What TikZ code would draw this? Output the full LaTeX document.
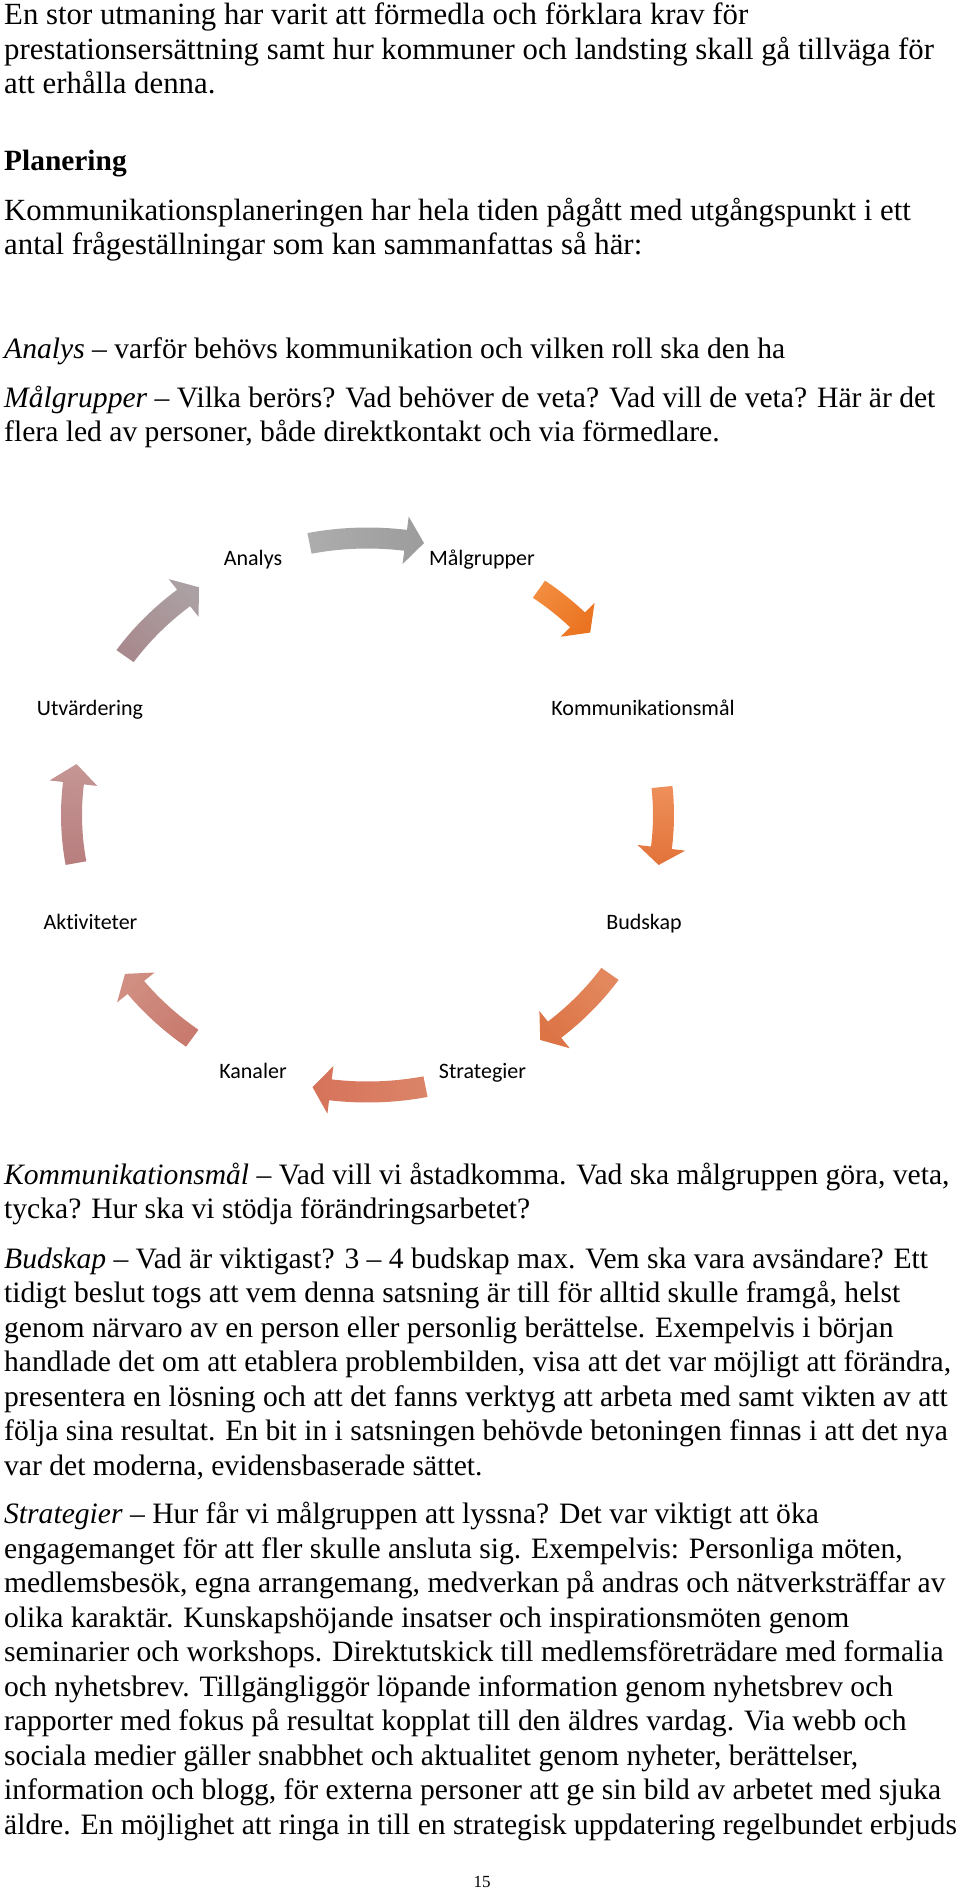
\documentclass[tikz,border=0pt]{standalone}
\usepackage{fontspec}
\setmainfont{Liberation Serif}
\newfontfamily\smartfont{Carlito}[Ligatures=NoCommon]
\definecolor{cyc1a}{HTML}{ADADAD}\definecolor{cyc1b}{HTML}{9C9C9C}
\definecolor{cyc2a}{HTML}{F28C3E}\definecolor{cyc2b}{HTML}{EA7320}
\definecolor{cyc3a}{HTML}{EE8F5A}\definecolor{cyc3b}{HTML}{E2733A}
\definecolor{cyc4a}{HTML}{E3885E}\definecolor{cyc4b}{HTML}{DC7446}
\definecolor{cyc5a}{HTML}{DB8468}\definecolor{cyc5b}{HTML}{D6735A}
\definecolor{cyc6a}{HTML}{C97A6E}\definecolor{cyc6b}{HTML}{D08F82}
\definecolor{cyc7a}{HTML}{B87E7E}\definecolor{cyc7b}{HTML}{C49694}
\definecolor{cyc8a}{HTML}{A88A8E}\definecolor{cyc8b}{HTML}{ABA0A3}
\begin{document}
\begin{tikzpicture}[x=1pt,y=-1pt,
    txt/.style={anchor=base west,inner sep=0pt,font=\fontsize{#1}{35}\selectfont},
    txt/.default=29.6,
    lbl/.style={anchor=base,inner sep=0pt,font=\smartfont\fontsize{22}{26}\selectfont}]
\useasboundingbox (0,0) rectangle (960,1889);

% text above the cycle
\foreach \y/\fsz/\linetext [count=\i] in {
    25/30.8/{En stor utmaning har varit att förmedla och förklara krav för},
    59.5/30.8/{prestationsersättning samt hur kommuner och landsting skall gå tillväga för},
    94/30.8/{att erhålla denna.},
    170.5/29.4/{\bfseries Planering},
    220/30.8/{Kommunikationsplaneringen har hela tiden pågått med utgångspunkt i ett},
    254.5/30.8/{antal frågeställningar som kan sammanfattas så här:},
    358/29.6/{\textit{Analys} – varför behövs kommunikation och vilken roll ska den ha},
    407/29.6/{\textit{Målgrupper} – Vilka berörs? Vad behöver de veta? Vad vill de veta? Här är det},
    441.5/29.6/{flera led av personer, både direktkontakt och via förmedlare.}}
  \node[txt=\fsz] (top\i) at (4,\y) {\linetext};

% the cycle
\coordinate (cyc) at (367.5,815);
\begin{scope}[shift={(cyc)}]
  \foreach \ta/\tb/\tc [count=\i] in {258.7/277.4/281, 305.4/315.2/318.8,
      354.2/366.8/370.4, 35/50.8/54.3, 78.7/97.2/100.7, 126.3/141.5/145,
      170/186.6/190.6, 215/231.6/235.3}{
    \pgfmathsetmacro\tm{(\ta+\tc)/2}
    \shade[top color=cyc\i a, bottom color=cyc\i b, shading angle=-\tm]
      (\ta:306.5 and 287.5) arc[start angle=\ta, end angle=\tb, x radius=306.5, y radius=287.5]
      -- (\tb:320 and 301) -- (\tc:296 and 277) -- (\tb:272 and 253)
      -- (\tb:285.5 and 266.5) arc[start angle=\tb, end angle=\ta, x radius=285.5, y radius=266.5]
      -- cycle;
  }
\end{scope}

\node[lbl] (analys) at (253,565) {Analys};
\node[lbl] (malgrupper) at (482,565) {Målgrupper};
\node[lbl] (kommal) at (643,715) {Kommunikationsmål};
\node[lbl] (budskap) at (644,929) {Budskap};
\node[lbl] (strategier) at (482.5,1078) {Strategier};
\node[lbl] (kanaler) at (253,1078) {Kanaler};
\node[lbl] (aktiviteter) at (90.5,929) {Aktiviteter};
\node[lbl] (utvardering) at (90,715) {Utvärdering};

% text below the cycle
\foreach \y/\linetext [count=\i] in {
    1184/{\textit{Kommunikationsmål} – Vad vill vi åstadkomma. Vad ska målgruppen göra, veta,},
    1218.5/{tycka? Hur ska vi stödja förändringsarbetet?},
    1268/{\textit{Budskap} – Vad är viktigast? 3 – 4 budskap max. Vem ska vara avsändare? Ett},
    1302.5/{tidigt beslut togs att vem denna satsning är till för alltid skulle framgå, helst},
    1337/{genom närvaro av en person eller personlig berättelse. Exempelvis i början},
    1371.5/{handlade det om att etablera problembilden, visa att det var möjligt att förändra,},
    1406/{presentera en lösning och att det fanns verktyg att arbeta med samt vikten av att},
    1440.5/{följa sina resultat. En bit in i satsningen behövde betoningen finnas i att det nya},
    1475/{var det moderna, evidensbaserade sättet.},
    1523.5/{\textit{Strategier} – Hur får vi målgruppen att lyssna? Det var viktigt att öka},
    1558/{engagemanget för att fler skulle ansluta sig. Exempelvis: Personliga möten,},
    1592.5/{medlemsbesök, egna arrangemang, medverkan på andras och nätverksträffar av},
    1627/{olika karaktär. Kunskapshöjande insatser och inspirationsmöten genom},
    1661.5/{seminarier och workshops. Direktutskick till medlemsföreträdare med formalia},
    1696/{och nyhetsbrev. Tillgängliggör löpande information genom nyhetsbrev och},
    1730.5/{rapporter med fokus på resultat kopplat till den äldres vardag. Via webb och},
    1765/{sociala medier gäller snabbhet och aktualitet genom nyheter, berättelser,},
    1799.5/{information och blogg, för externa personer att ge sin bild av arbetet med sjuka},
    1834/{äldre. En möjlighet att ringa in till en strategisk uppdatering regelbundet erbjuds}}
  \node[txt] (bot\i) at (4,\y) {\linetext};

\node[anchor=base,inner sep=0pt,font=\fontsize{17}{20}\selectfont] (pagenr) at (482,1887) {15};
\end{tikzpicture}
\end{document}
